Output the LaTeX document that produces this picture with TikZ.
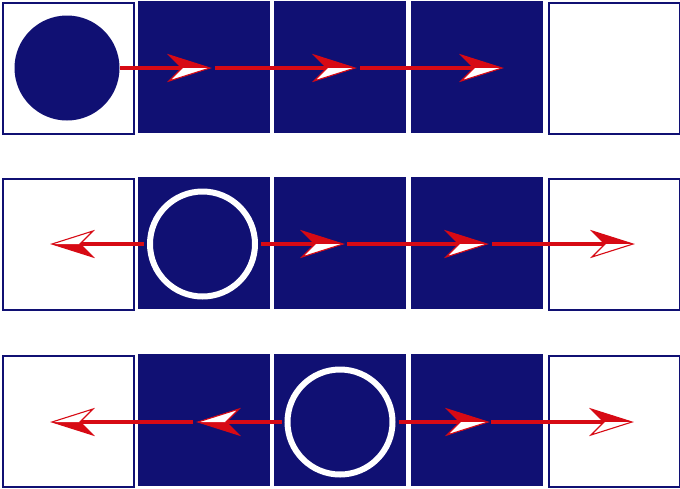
\documentclass[tikz,border=0pt]{standalone}
\definecolor{navy}{RGB}{16,16,115}
\definecolor{ared}{RGB}{215,10,20}
\tikzset{
  emptysq/.style={draw=navy, line width=2pt, fill=white, minimum size=131pt, inner sep=0pt, anchor=north west},
  fullsq/.style={fill=navy, minimum size=132pt, inner sep=0pt, anchor=north west},
  solidball/.style={circle, fill=navy, minimum size=105pt, inner sep=0pt},
  ringball/.style={circle, draw=white, line width=6pt, minimum size=105pt, inner sep=0pt},
  shaft/.style={draw=ared, line width=4pt, shorten >=27pt},
  pics/ahead/.style={code={
    \fill[ared] (0,0) -- (-41,-13) -- (-28,0) -- cycle;
    \fill[white] (0,0) -- (-28,0) -- (-41,13) -- cycle;
    \draw[ared, line width=1.1pt, line join=miter] (0,0) -- (-41,-13) -- (-28,0) -- (-41,13) -- cycle;
  }}
}
\begin{document}
\begin{tikzpicture}[x=1pt,y=-1pt]
\useasboundingbox (0,0) rectangle (680,488);
% row 1
\node[emptysq] (s11) at (1.5,1.5) {};
\node[fullsq] (s12) at (137.5,1) {};
\node[fullsq] (s13) at (274,1) {};
\node[fullsq] (s14) at (411,1) {};
\node[emptysq] (s15) at (547.5,1.5) {};
% row 2
\node[emptysq] (s21) at (1.5,177.5) {};
\node[fullsq] (s22) at (137.5,177) {};
\node[fullsq] (s23) at (274,177) {};
\node[fullsq] (s24) at (411,177) {};
\node[emptysq] (s25) at (547.5,177.5) {};
% row 3
\node[emptysq] (s31) at (1.5,354.5) {};
\node[fullsq] (s32) at (137.5,354) {};
\node[fullsq] (s33) at (274,354) {};
\node[fullsq] (s34) at (411,354) {};
\node[emptysq] (s35) at (547.5,354.5) {};
% balls
\node[solidball] (c1) at (67,68) {};
\node[ringball] (c2) at (202.5,244) {};
\node[ringball] (c3) at (340,422) {};
% arrow coordinates
\coordinate (t11) at (210,68);
\coordinate (b12) at (215,68);
\coordinate (t12) at (355,68);
\coordinate (b13) at (360,68);
\coordinate (t13) at (502,68);
\coordinate (t20) at (52,244);
\coordinate (t21) at (343,244);
\coordinate (b22) at (347,244);
\coordinate (t22) at (487,244);
\coordinate (b23) at (492,244);
\coordinate (t23) at (633,244);
\coordinate (t30) at (198,422);
\coordinate (b31) at (193,422);
\coordinate (t31) at (52,422);
\coordinate (t32) at (488,422);
\coordinate (b33) at (491,422);
\coordinate (t33) at (632,422);
% shafts
\draw[shaft] (c1.east) -- (t11);
\draw[shaft] (b12) -- (t12);
\draw[shaft] (b13) -- (t13);
\draw[shaft, shorten <=3pt] (c2.west) -- (t20);
\draw[shaft, shorten <=3pt] (c2.east) -- (t21);
\draw[shaft] (b22) -- (t22);
\draw[shaft] (b23) -- (t23);
\draw[shaft, shorten <=3pt] (c3.west) -- (t30);
\draw[shaft] (b31) -- (t31);
\draw[shaft, shorten <=3pt] (c3.east) -- (t32);
\draw[shaft] (b33) -- (t33);
% heads
\pic at (t11) {ahead};
\pic at (t12) {ahead};
\pic at (t13) {ahead};
\pic[rotate=180] at (t20) {ahead};
\pic at (t21) {ahead};
\pic at (t22) {ahead};
\pic at (t23) {ahead};
\pic[rotate=180] at (t30) {ahead};
\pic[rotate=180] at (t31) {ahead};
\pic at (t32) {ahead};
\pic at (t33) {ahead};
\end{tikzpicture}
\end{document}
